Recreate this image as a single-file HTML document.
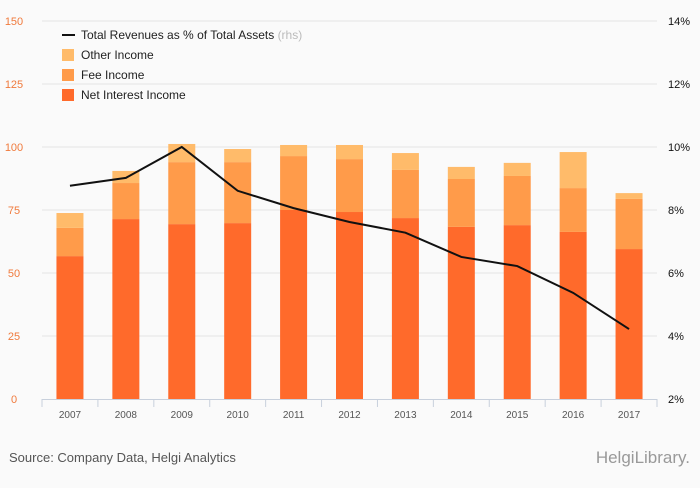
<!DOCTYPE html>
<html><head><meta charset="utf-8"><style>
body{margin:0;background:#fafafa;font-family:"Liberation Sans",sans-serif}
svg text{font-family:"Liberation Sans",sans-serif}
</style></head><body>
<svg id="c" width="700" height="483"></svg>
<script>
const years=["2007","2008","2009","2010","2011","2012","2013","2014","2015","2016","2017"];
const netInterest=[56.7,71.4,69.4,69.8,75,74.2,71.8,68.3,69,66.3,59.5];
const feeIncome=[11.2,14.3,24.6,24.2,21.4,21,19.1,19,19.5,17.4,19.9];
const otherIncome=[5.9,4.8,7.2,5.2,4.4,5.6,6.7,4.8,5.2,14.3,2.3];
const revPct=[8.77,9.02,10.0,8.61,8.06,7.62,7.28,6.51,6.22,5.37,4.22];
const leftTicks=[0,25,50,75,100,125,150];
const rightTicks=[2,4,6,8,10,12,14];
const NS="http://www.w3.org/2000/svg",svg=document.getElementById('c');
function mk(t,a,p){const e=document.createElementNS(NS,t);for(const k in a)e.setAttribute(k,a[k]);(p||svg).appendChild(e);return e;}
const x0=42,x1=657,yB=399,yT=21,bw=(x1-x0)/years.length;
const yL=v=>yB-(v/150)*(yB-yT);
const yR=v=>yB-((v-2)/12)*(yB-yT);
const xc=i=>x0+bw*(i+0.5);
leftTicks.forEach((t,i)=>{
 if(t>0){const g=mk('line',{x1:x0,x2:x1,y1:yL(t),y2:yL(t),stroke:'#e4e4e4','stroke-width':1});
 }
 const l=mk('text',{x:14,y:yL(t)+4,'font-size':11,fill:'#f07a3c','text-anchor':'middle'});l.textContent=t;
 
});
rightTicks.forEach(t=>{
 const l=mk('text',{x:668,y:yR(t)+4,'font-size':11,fill:'#111'});l.textContent=t+'%';
 
});
const ax=mk('line',{x1:x0,x2:x1,y1:yB+0.5,y2:yB+0.5,stroke:'#c8d0dc'});

for(let i=0;i<=years.length;i++){const tk=mk('line',{x1:x0+bw*i,x2:x0+bw*i,y1:yB,y2:yB+8,stroke:'#c8d0dc'});
 }
years.forEach((y,i)=>{
 const w=27,x=xc(i)-w/2;
 const a=netInterest[i],b=feeIncome[i],c=otherIncome[i];
 const r1=mk('rect',{x:x,y:yL(a),width:w,height:yB-yL(a),fill:'#ff6a2b'});
 
 const r2=mk('rect',{x:x,y:yL(a+b),width:w,height:yL(a)-yL(a+b),fill:'#ff9b4a'});
 
 const r3=mk('rect',{x:x,y:yL(a+b+c),width:w,height:yL(a+b)-yL(a+b+c),fill:'#ffbb6a'});
 
 const l=mk('text',{x:xc(i),y:418,'font-size':10,fill:'#555','text-anchor':'middle'});l.textContent=y;
 
});
const pl=mk('polyline',{points:revPct.map((v,i)=>xc(i)+','+yR(v)).join(' '),fill:'none',stroke:'#111','stroke-width':2});

// legend
const lg=mk('g',{});
const ll=mk('line',{x1:62,x2:75,y1:35,y2:35,stroke:'#111','stroke-width':2},lg);

const t0=mk('text',{x:81,y:39,'font-size':12,fill:'#222'},lg);t0.innerHTML='Total Revenues as % of Total Assets <tspan fill="#bbb">(rhs)</tspan>';

[['Other Income','#ffbb6a',55],['Fee Income','#ff9b4a',75],['Net Interest Income','#ff6a2b',95]].forEach(d=>{
 const s=mk('rect',{x:62,y:d[2]-6,width:12,height:12,fill:d[1]},lg);
 
 const t=mk('text',{x:81,y:d[2]+4,'font-size':12,fill:'#222'},lg);t.textContent=d[0];
 
});
const src=mk('text',{x:9,y:462,'font-size':13,fill:'#555'});src.textContent='Source: Company Data, Helgi Analytics';

const logo=mk('text',{x:690,y:463,'font-size':17,fill:'#999','text-anchor':'end','font-family':'Liberation Serif'});logo.textContent='HelgiLibrary.';

</script>
</body></html>
